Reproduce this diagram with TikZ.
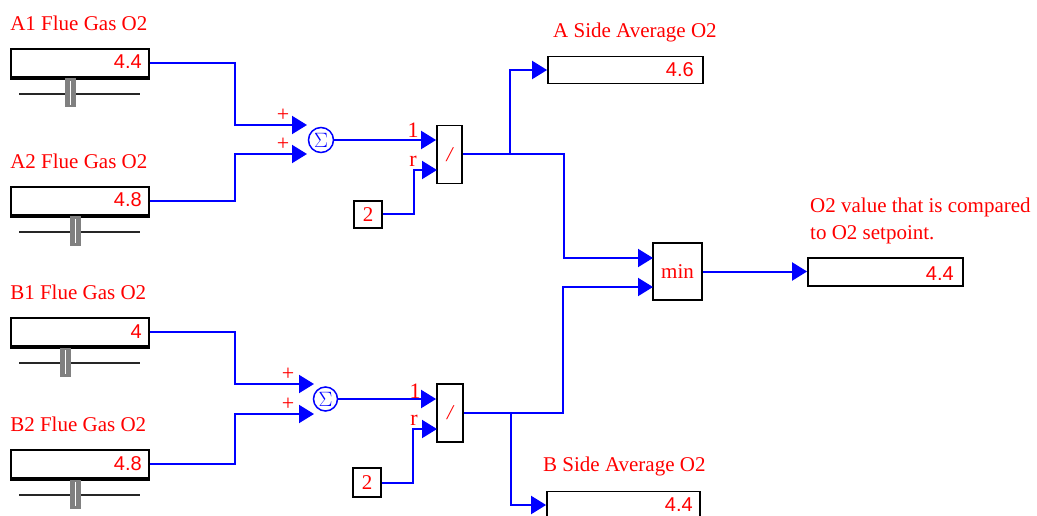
\documentclass[tikz,border=0pt]{standalone}
\usepackage{fontspec}
\setmainfont{Liberation Serif}
\setsansfont{Liberation Sans}
\usetikzlibrary{arrows.meta}
\definecolor{wireblue}{RGB}{0,0,255}
\definecolor{knobgray}{RGB}{128,128,128}

\begin{document}
\begin{tikzpicture}[x=1pt,y=-1pt,
        lbl/.style={anchor=base west,inner sep=0pt,text=red,font=\fontsize{21}{24}\selectfont},
        val/.style={anchor=base east,inner sep=0pt,text=red,font=\sffamily\fontsize{20}{22}\selectfont},
        sgn/.style={inner sep=0pt,text=red,font=\fontsize{22}{24}\selectfont},
        slidebox/.style={draw,line width=1.8pt,minimum width=138pt,minimum height=28pt,inner sep=0pt},
        readout/.style={draw,line width=1.8pt,minimum width=155pt,minimum height=27pt,inner sep=0pt},
        block/.style={draw,line width=1.8pt,inner sep=0pt,text=red,font=\fontsize{21}{24}\selectfont},
        track/.style={draw=black!85,line width=2pt},
        knob/.style={fill=knobgray,minimum width=11pt,minimum height=29pt,inner sep=0pt},
        slit/.style={white,line width=1.8pt,shorten >=3pt,shorten <=3pt},
        sum/.style={circle,draw=wireblue,line width=1.5pt,minimum size=25pt,inner sep=0pt,text=wireblue,font=\fontsize{20}{20}\selectfont},
        wire/.style={wireblue,line width=2pt},
        feed/.style={wire,-{Triangle[length=15pt,width=18pt]}}]

    \useasboundingbox (0,0) rectangle (1037,516);
    \clip (0,0) rectangle (1037,516);

    % 1. Slider inputs, A side
    \node (a1) at (80,63) [slidebox] {};
    \node (a1lbl) at ([yshift=18pt]a1.north west) [lbl] {A1 Flue Gas O2};
    \node (a1val) at ([xshift=-8pt,yshift=-6pt]a1.east) [val] {4.4};
    \draw[line width=3.5pt] (a1.south west) -- (a1.south east);
    \draw[track] ([xshift=9pt,yshift=-16pt]a1.south west) -- ([xshift=-10pt,yshift=-16pt]a1.south east);
    \node (a1knob) at ([xshift=-9.5pt,yshift=-30pt]a1.center) [knob] {};
    \draw[slit] (a1knob.north) -- (a1knob.south);

    \node (a2) at (80,201) [slidebox] {};
    \node (a2lbl) at ([yshift=18pt]a2.north west) [lbl] {A2 Flue Gas O2};
    \node (a2val) at ([xshift=-8pt,yshift=-6pt]a2.east) [val] {4.8};
    \draw[line width=3.5pt] (a2.south west) -- (a2.south east);
    \draw[track] ([xshift=9pt,yshift=-16pt]a2.south west) -- ([xshift=-10pt,yshift=-16pt]a2.south east);
    \node (a2knob) at ([xshift=-4.5pt,yshift=-30pt]a2.center) [knob] {};
    \draw[slit] (a2knob.north) -- (a2knob.south);

    % 2. Slider inputs, B side
    \node (b1) at (80,332) [slidebox] {};
    \node (b1lbl) at ([yshift=18pt]b1.north west) [lbl] {B1 Flue Gas O2};
    \node (b1val) at ([xshift=-8pt,yshift=-6pt]b1.east) [val] {4};
    \draw[line width=3.5pt] (b1.south west) -- (b1.south east);
    \draw[track] ([xshift=9pt,yshift=-16pt]b1.south west) -- ([xshift=-10pt,yshift=-16pt]b1.south east);
    \node (b1knob) at ([xshift=-14.5pt,yshift=-30pt]b1.center) [knob] {};
    \draw[slit] (b1knob.north) -- (b1knob.south);

    \node (b2) at (80,464) [slidebox] {};
    \node (b2lbl) at ([yshift=18pt]b2.north west) [lbl] {B2 Flue Gas O2};
    \node (b2val) at ([xshift=-8pt,yshift=-6pt]b2.east) [val] {4.8};
    \draw[line width=3.5pt] (b2.south west) -- (b2.south east);
    \draw[track] ([xshift=9pt,yshift=-16pt]b2.south west) -- ([xshift=-10pt,yshift=-16pt]b2.south east);
    \node (b2knob) at ([xshift=-4.5pt,yshift=-30pt]b2.center) [knob] {};
    \draw[slit] (b2knob.north) -- (b2knob.south);

    % 3. A side: sum, divide by 2
    \node (sa) at (321,140) [sum] {$\Sigma$};
    \coordinate (sa1) at (307,125);
    \coordinate (sa2) at (307,154);
    \node (pa1) at (283,115) [sgn] {+};
    \node (pa2) at (283,144) [sgn] {+};
    \draw[feed] (a1.east) -| ([xshift=-72pt]sa1) -- (sa1);
    \draw[feed] (a2.east) -| ([xshift=-72pt]sa2) -- (sa2);

    \node (da) at (449.5,154.5) [block,minimum width=25pt,minimum height=58pt] {\itshape /};
    \coordinate (dar) at (437,170);
    \node (na) at (413,130) [sgn] {1};
    \node (ra) at (413,161) [sgn] {r};
    \draw[feed] (sa.east) -- (sa.east -| da.west);
    \node (ca) at (368,214.5) [block,minimum width=28pt,minimum height=27pt] {2};
    \draw[feed] (ca.east) -| ([xshift=-23pt]dar) -- (dar);

    % 4. B side: sum, divide by 2
    \node (sb) at (325.5,399) [sum,minimum size=24pt] {$\Sigma$};
    \coordinate (sb1) at (314,384);
    \coordinate (sb2) at (314,414);
    \node (pb1) at (288,374) [sgn] {+};
    \node (pb2) at (288,404) [sgn] {+};
    \draw[feed] (b1.east) -| ([xshift=-79pt]sb1) -- (sb1);
    \draw[feed] (b2.east) -| ([xshift=-79pt]sb2) -- (sb2);

    \node (db) at (450,413) [block,minimum width=26pt,minimum height=58pt] {\itshape /};
    \coordinate (dbr) at (437,429);
    \node (nb) at (415,391) [sgn] {1};
    \node (rb) at (414,420) [sgn] {r};
    \draw[feed] (sb.east) -- (sb.east -| db.west);
    \node (cb) at (367,482.5) [block,minimum width=28pt,minimum height=29pt] {2};
    \draw[feed] (cb.east) -| ([xshift=-24pt]dbr) -- (dbr);

    % 5. Side averages and min selector
    \node (mn) at (677.5,271.5) [block,minimum width=49pt,minimum height=57pt] {min};
    \coordinate (mn1) at (653,258);
    \coordinate (mn2) at (653,287);

    \node (avA) at (625.5,70) [readout] {};
    \node (avAlbl) at (553,38) [lbl] {A Side Average O2};
    \node (avAval) at ([xshift=-10pt,yshift=-7pt]avA.east) [val] {4.6};
    \coordinate (ja) at ([xshift=47pt]da.east);
    \draw[feed] (da.east) -| ([xshift=-89pt]mn1) -- (mn1);
    \draw[feed] (ja) |- (avA.west);

    \node (avB) at (623.5,505) [readout,minimum width=153pt] {};
    \node (avBlbl) at (543,471) [lbl] {B Side Average O2};
    \node (avBval) at ([xshift=-8pt,yshift=-6pt]avB.east) [val] {4.4};
    \coordinate (jb) at ([xshift=47pt]db.east);
    \draw[feed] (db.east) -| ([xshift=-90pt]mn2) -- (mn2);
    \draw[feed] (jb) |- (avB.west);

    % 6. Result
    \node (out) at (885.5,272) [readout,minimum height=28pt] {};
    \node (outlbl1) at (810,213) [lbl] {O2 value that is compared};
    \node (outlbl2) at (810,240) [lbl] {to O2 setpoint.};
    \node (outval) at ([xshift=-10pt,yshift=-8pt]out.east) [val] {4.4};
    \draw[feed] (mn.east) -- (mn.east -| out.west);

\end{tikzpicture}
\end{document}
